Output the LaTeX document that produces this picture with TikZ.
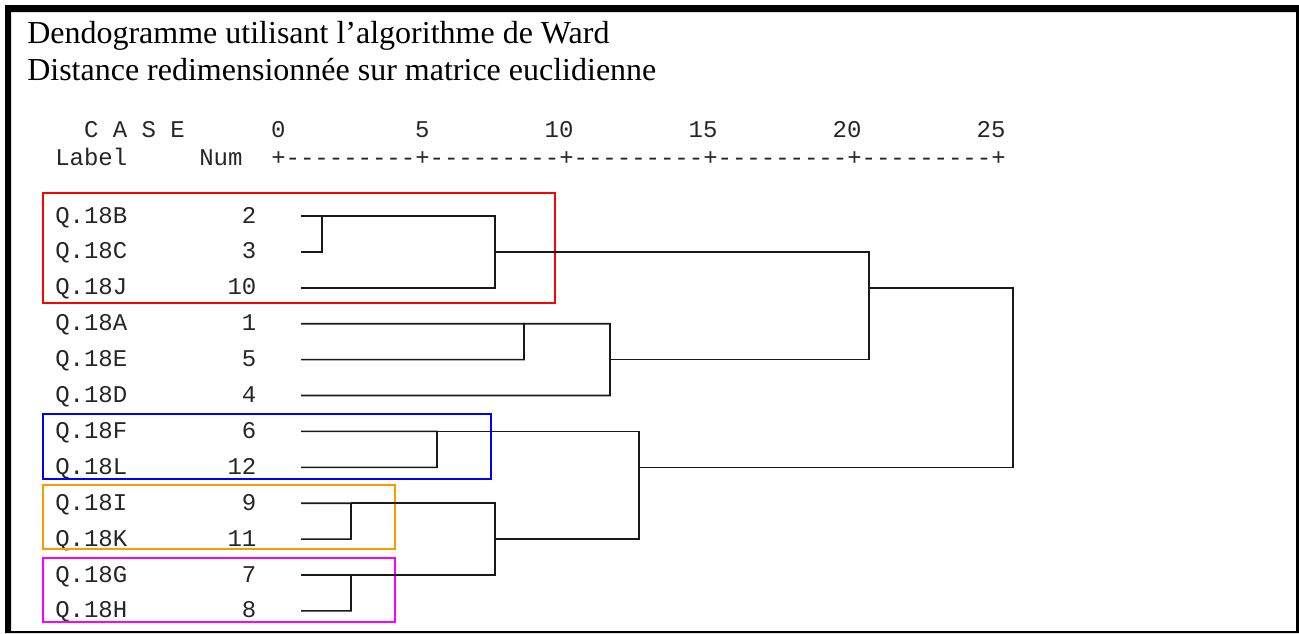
\documentclass[tikz,border=0pt]{standalone}
\usepackage{fontspec}
\setmainfont{Liberation Serif}
\setmonofont{Liberation Mono}
\definecolor{grporange}{RGB}{255,153,0}
\definecolor{grpmagenta}{RGB}{255,0,255}
\definecolor{grpred}{RGB}{255,0,0}
\definecolor{grpblue}{RGB}{0,0,255}
\tikzset{
  mono/.style={font=\ttfamily\fontsize{18pt}{20pt}\selectfont, inner sep=0pt, text=black!85},
  labw/.style={mono, anchor=base west},
  nume/.style={mono, anchor=base east},
  tick/.style={mono, anchor=base},
  ttl/.style={font=\fontsize{24pt}{28pt}\selectfont, inner sep=0pt, anchor=base west},
  dend/.style={draw=black!90, line width=1.2pt},
  grp/.style={line width=1.5pt},
}
\begin{document}
\begin{tikzpicture}[x=0.75pt,y=-0.75pt]
\useasboundingbox (0,0) rectangle (1299,633);
% frame
\fill[black, even odd rule] (5,5) rectangle (1299,633) (11,12) rectangle (1296,631);
% titles
\node[ttl] (t1) at (27,43) {Dendogramme utilisant l’algorithme de Ward};
\node[ttl] (t2) at (27,80) {Distance redimensionnée sur matrice euclidienne};
% header
\node[labw] (hcase) at (83.8,137) {C A S E};
\node[labw] (hlabel) at (55,165) {Label};
\node[labw] (hnum) at (199,165) {Num};
\node[labw] (haxis) at (271,165) {+---------+---------+---------+---------+---------+};
\node[tick] (x0) at (278.2,137) {0};
\node[tick] (x5) at (422.2,137) {5};
\node[tick] (x10) at (559,137) {10};
\node[tick] (x15) at (703,137) {15};
\node[tick] (x20) at (847,137) {20};
\node[tick] (x25) at (991,137) {25};
% rows
\foreach \lab/\num/\i in {Q.18B/2/0, Q.18C/3/1, Q.18J/10/2, Q.18A/1/3, Q.18E/5/4, Q.18D/4/5,
  Q.18F/6/6, Q.18L/12/7, Q.18I/9/8, Q.18K/11/9, Q.18G/7/10, Q.18H/8/11}{
  \pgfmathsetmacro\yy{216+35.9*\i}
  \node[labw] (lab\num) at (55,\yy+7) {\lab};
  \node[nume] (num\num) at (256.6,\yy+7) {\num};
  \coordinate (s\num) at (301,\yy);
}
% group boxes
\draw[grp, grpred] (43,193) rectangle (555,303);
\draw[grp, grpblue] (43,414) rectangle (491,479);
\draw[grp, grporange] (43,485) rectangle (395,549);
\draw[grp, grpmagenta] (43,558) rectangle (395,622);
% merge corners and outputs
\coordinate (kA) at (322,251.9);  \coordinate (oA) at (322,216);
\coordinate (kB) at (495,287.8);  \coordinate (oB) at (495,251.9);
\coordinate (kC) at (524,359.6);  \coordinate (oC) at (524,323.7);
\coordinate (kD) at (610,395.5);  \coordinate (oD) at (610,359.6);
\coordinate (kE) at (869,359.6);  \coordinate (oE) at (869,287.8);
\coordinate (kF) at (437,467.3);  \coordinate (oF) at (437,431.4);
\coordinate (kG) at (351,539.1);  \coordinate (oG) at (351,503.2);
\coordinate (kH) at (351,610.9);  \coordinate (oH) at (351,575.0);
\coordinate (kI) at (495,575.0);  \coordinate (oI) at (495,539.1);
\coordinate (kJ) at (639,539.1);  \coordinate (oJ) at (639,467.3);
\coordinate (kK) at (1013,467.3);
% dendrogram
\draw[dend] (s2) -| (kA) -- (s3);
\draw[dend] (oA) -| (kB) -- (s10);
\draw[dend] (s1) -| (kC) -- (s5);
\draw[dend] (oC) -| (kD) -- (s4);
\draw[dend] (oB) -| (kE) -- (oD);
\draw[dend] (s6) -| (kF) -- (s12);
\draw[dend] (s9) -| (kG) -- (s11);
\draw[dend] (s7) -| (kH) -- (s8);
\draw[dend] (oG) -| (kI) -- (oH);
\draw[dend] (oF) -| (kJ) -- (oI);
\draw[dend] (oE) -| (kK) -- (oJ);
\end{tikzpicture}
\end{document}
